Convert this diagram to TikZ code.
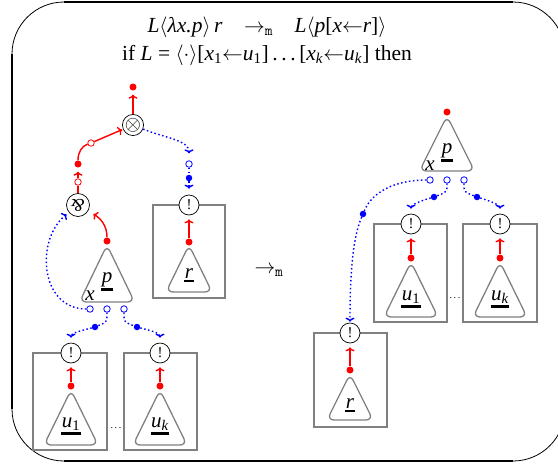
\documentclass[tikz,border=0pt]{standalone}
\usepackage{fontspec}
\setmainfont{Liberation Serif}
\usepackage{graphicx}
\usetikzlibrary{arrows.meta}
\newcommand\ulab[1]{\vtop{\hbox{\kern0.5pt#1\kern0.5pt}\kern1.8pt\hrule height 2.6pt}}
\begin{document}
\begin{tikzpicture}[x=1pt,y=-1pt,
 redl/.style={red,line width=1.4pt},
 bluel/.style={blue,line width=1.4pt,dash pattern=on 1.5pt off 2.5pt},
 arr/.style={-{To[length=4pt,width=9pt]},shorten >=3pt},
 rdot/.style={circle,fill=red,inner sep=0pt,minimum size=7pt},
 bdot/.style={circle,fill=blue,inner sep=0pt,minimum size=6.5pt},
 wdotb/.style={circle,draw=blue,fill=white,line width=0.8pt,inner sep=0pt,minimum size=6.5pt},
 wdotr/.style={wdotb,draw=red},
 cnode/.style={circle,draw,line width=0.7pt,fill=white,inner sep=0pt,minimum size=21pt},
 bang/.style={cnode,minimum size=20pt,font=\fontsize{15}{15}\selectfont},
 gbox/.style={draw=gray,line width=1.3pt},
 tri/.style={draw=gray,line width=1.3pt,rounded corners=7pt},
 lab/.style={inner sep=0pt,anchor=base,font=\fontsize{21}{24}\selectfont},
 ttl/.style={inner sep=0pt,anchor=base,font=\fontsize{21.5}{24}\selectfont},
 dts/.style={inner sep=0pt,font=\fontsize{10}{12}\selectfont},
]
\useasboundingbox (0,0) rectangle (558,467);
\clip (0,0) rectangle (558,467);
% frame
\draw[line width=0.8pt,rounded corners=52pt] (12,2) rectangle (565,461);
\draw[line width=2.4pt] (64,2) -- (513,2);
\draw[line width=2.4pt] (12,54) -- (12,409);
\draw[line width=2.4pt] (64,461) -- (513,461);
% title
\node[ttl] (t1) at (267,32) {\textit{L}$\langle$\textit{λx.p}$\rangle$\,\textit{r}\quad$\rightarrow_{\mathtt{m}}$\quad\textit{L}$\langle$\textit{p}[\textit{x}$\leftarrow$\textit{r}]$\rangle$};
\node[ttl] (t2) at (267,60) {if \textit{L} = $\langle\cdot\rangle$[\textit{x}\textsubscript{1}$\leftarrow$\textit{u}\textsubscript{1}]\,.\,.\,.\,[\textit{x}\textsubscript{\textit{k}}$\leftarrow$\textit{u}\textsubscript{\textit{k}}] then};
\node[ttl] (mid) at (269,273) {$\rightarrow_{\mathtt{m}}$};

% ---------- left diagram ----------
\draw[gbox] (153,205) rectangle (225,298);
\draw[tri] (189,245) -- (212,292) -- (166,292) -- cycle;
\draw[tri] (107,245) -- (134.5,302) -- (79.5,302) -- cycle;
\draw[gbox] (33,353) rectangle (107,450);
\draw[gbox] (124,353) rectangle (197,450);
\draw[tri] (71,390) -- (98,445) -- (44,445) -- cycle;
\draw[tri] (160,390) -- (187,445) -- (133,445) -- cycle;

\node[rdot] (rt) at (133,87) {};
\node[cnode] (tens) at (133,125) {\fontsize{21}{21}\selectfont$\otimes$};
\node[wdotr] (w1) at (91,143) {};
\node[rdot] (c1) at (78,164) {};
\node[wdotr] (w2) at (78,182) {};
\node[cnode,minimum size=23pt] (par) at (78,205) {\fontsize{18}{18}\selectfont\rotatebox[origin=c]{180}{\textit{\&}}};

\node[bang] (nr) at (189,205) {!};
\node[rdot] (rr) at (189,242) {};
\node[lab] (lr) at (189,278) {\ulab{\textit{r}}};
\node[wdotb] (w3) at (189,164) {};
\node[bdot] (b3) at (189,178) {};

\node[rdot] (rp) at (107,241) {};
\node[lab] (lp) at (107,282) {\ulab{\textit{p}}};
\node[lab] (lx) at (90,300) {\textit{x}};
\node[wdotb] (wa) at (90,309) {};
\node[wdotb] (wb) at (107,309) {};
\node[wdotb] (wc) at (124,309) {};
\node[bdot] (bd1) at (95,327) {};
\node[bdot] (bd2) at (137,327) {};

\node[bang] (n1) at (71,353) {!};
\node[bang] (n2) at (160,353) {!};
\node[rdot] (ru1) at (71,386) {};
\node[rdot] (ruk) at (160,386) {};
\node[lab] (lu1) at (71,427) {\ulab{\textit{u}\textsubscript{1}}};
\node[lab] (luk) at (160,427) {\ulab{\textit{u}\textsubscript{\textit{k}}}};
\node[dts] (dl) at (116,428) {.\,.\,.};

\draw[redl,arr,shorten >=4pt] (tens) -- (rt);
\draw[redl] (par) -- (w2);
\draw[redl,arr,shorten >=4pt] (w2) -- (c1);
\draw[redl] (c1) .. controls (78,152) and (82,146) .. (w1);
\draw[redl,arr,shorten >=1pt] (w1) -- (tens);
\draw[redl,arr,shorten >=6pt] (rp) .. controls (107,225) and (100,218) .. (par);
\draw[bluel,arr,shorten >=7pt] (tens) .. controls (165,138) and (189,140) .. (w3);
\draw[bluel] (w3) -- (b3);
\draw[bluel,arr,shorten >=6pt] (b3) -- (nr);
\draw[redl,arr,shorten >=4pt] (rr) -- (nr);
\draw[bluel,arr] (wa) .. controls (40,309) and (35,240) .. (par);
\draw[bluel] (wb) .. controls (107,322) .. (bd1);
\draw[bluel,arr,shorten >=5pt] (bd1) .. controls (80,331) and (71,333) .. (n1);
\draw[bluel] (wc) .. controls (124,322) .. (bd2);
\draw[bluel,arr,shorten >=5pt] (bd2) .. controls (152,331) and (160,333) .. (n2);
\draw[redl,arr,shorten >=4pt] (ru1) -- (n1);
\draw[redl,arr,shorten >=4pt] (ruk) -- (n2);

% ---------- right diagram ----------
\draw[tri] (447,116) -- (474.5,171) -- (419.5,171) -- cycle;
\draw[gbox] (374,224) rectangle (447,322);
\draw[gbox] (463,224) rectangle (537,322);
\draw[tri] (411,262) -- (438,317) -- (384,317) -- cycle;
\draw[tri] (500,262) -- (527,317) -- (473,317) -- cycle;
\draw[gbox] (314,333) rectangle (387,427);
\draw[tri] (350,374) -- (373,420) -- (327,420) -- cycle;

\node[rdot] (rp2) at (447,112) {};
\node[lab] (lp2) at (447,153) {\ulab{\textit{p}}};
\node[lab] (lx2) at (430,170) {\textit{x}};
\node[wdotb] (wl) at (430,180) {};
\node[wdotb] (wm) at (447,180) {};
\node[wdotb] (wr) at (464,180) {};
\node[bdot] (bdm) at (434,197) {};
\node[bdot] (bdr) at (477,197) {};
\node[bdot] (bdl) at (363,214) {};

\node[bang] (n3) at (411,224) {!};
\node[bang] (n4) at (500,224) {!};
\node[rdot] (ru3) at (411,258) {};
\node[rdot] (ru4) at (500,258) {};
\node[lab] (lu3) at (411,300) {\ulab{\textit{u}\textsubscript{1}}};
\node[lab] (lu4) at (500,300) {\ulab{\textit{u}\textsubscript{\textit{k}}}};
\node[dts] (dr) at (455,298) {.\,.\,.};

\node[bang] (n5) at (350,333) {!};
\node[rdot] (rr2) at (350,370) {};
\node[lab] (lr2) at (350,408) {\ulab{\textit{r}}};

\draw[bluel] (wm) .. controls (447,192) .. (bdm);
\draw[bluel,arr,shorten >=5pt] (bdm) .. controls (420,201) and (411,205) .. (n3);
\draw[bluel] (wr) .. controls (464,192) .. (bdr);
\draw[bluel,arr,shorten >=5pt] (bdr) .. controls (490,201) and (500,205) .. (n4);
\draw[bluel] (wl) .. controls (395,180) and (372,192) .. (bdl);
\draw[bluel,arr,shorten >=1pt] (bdl) .. controls (354,235) and (350,265) .. (n5);
\draw[redl,arr,shorten >=4pt] (ru3) -- (n3);
\draw[redl,arr,shorten >=4pt] (ru4) -- (n4);
\draw[redl,arr,shorten >=4pt] (rr2) -- (n5);
\end{tikzpicture}
\end{document}
